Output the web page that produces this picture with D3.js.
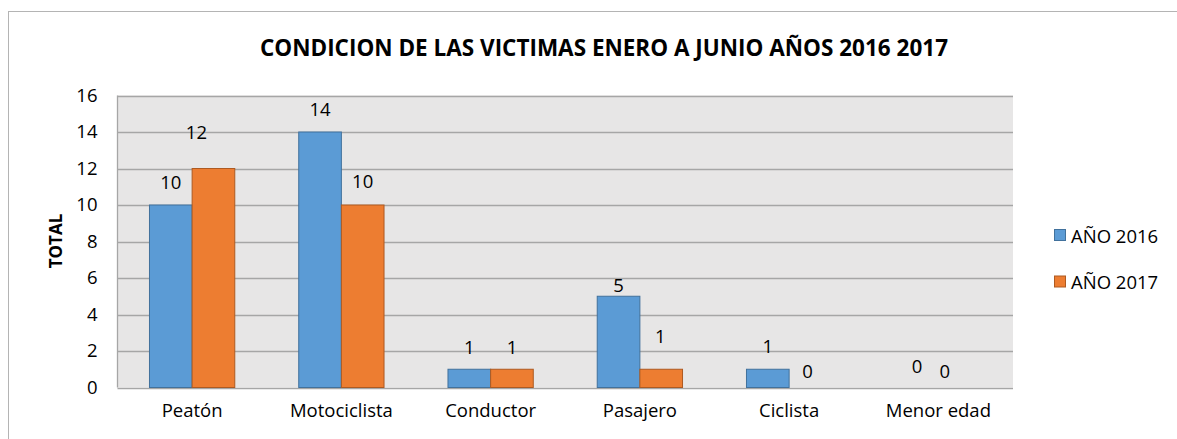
<!DOCTYPE html>
<html lang="es">
<head>
<meta charset="UTF-8">
<title>Condicion de las victimas</title>
<script src="https://d3js.org/d3.v7.min.js"></script>
<style>
  body { margin: 0; background: #fff; }
  svg { display: block; font-family: 'Open Sans', sans-serif; }
</style>
</head>
<body>
<svg id="chart" width="1177" height="439"></svg>
<script>
// data
var categories = ["Peatón", "Motociclista", "Conductor", "Pasajero", "Ciclista", "Menor edad"];
var seriesNames = ["AÑO 2016", "AÑO 2017"];
var values2016 = [10, 14, 1, 5, 1, 0];
var values2017 = [12, 10, 1, 1, 0, 0];
var yTicks = [0, 2, 4, 6, 8, 10, 12, 14, 16];

// label nudges (the original labels were dragged by hand)
var labelNudge2016 = [[0, -24], [0, -24], [0, -23], [0, -12], [0, -24], [0, -22]];
var labelNudge2017 = [[-17, -37], [0, -25], [0, -23], [-1, -34], [-3, -17], [-15, -17]];

var colors = ["#5B9BD5", "#ED7D31"];
var strokes = ["#41719C", "#AE5A21"];

var svg = d3.select("#chart");
var plotL = 117.5, plotR = 1013, plotT = 95.5, plotB = 387.5;

// outer chart frame
svg.append("rect").attr("x", 8.5).attr("y", 11.5).attr("width", 1200).attr("height", 500)
  .attr("fill", "none").attr("stroke", "#b4b4b4");

svg.append("text").attr("x", 604).attr("y", 47).attr("text-anchor", "middle")
  .attr("dominant-baseline", "central").attr("font-weight", "bold").attr("font-size", 22.5)
  .text("CONDICION DE LAS VICTIMAS ENERO A JUNIO AÑOS 2016 2017");

var x0 = d3.scaleBand().domain(categories).range([plotL, plotR]).padding(0);
var x1 = d3.scaleBand().domain(seriesNames).range([0, x0.bandwidth()])
  .paddingInner(0).paddingOuter(0.75);
var y = d3.scaleLinear().domain([0, 16]).range([plotB, plotT]);

svg.append("rect").attr("x", plotL).attr("y", plotT).attr("width", plotR - plotL).attr("height", plotB - plotT)
  .attr("fill", "#E7E6E6");

svg.append("g").selectAll("line").data(yTicks).enter().append("line")
  .attr("x1", plotL).attr("x2", plotR)
  .attr("y1", function(d) { return Math.round(y(d)) + 0.5; })
  .attr("y2", function(d) { return Math.round(y(d)) + 0.5; })
  .attr("stroke", "#A6A6A6").attr("stroke-width", 1.3);
svg.append("line").attr("x1", plotL).attr("x2", plotL).attr("y1", plotT).attr("y2", plotB)
  .attr("stroke", "#A6A6A6").attr("stroke-width", 1.3);

var yAxis = d3.axisLeft(y).tickValues(yTicks).tickSize(0).tickPadding(20);
var gy = svg.append("g").attr("transform", "translate(" + plotL + ",0)").call(yAxis);
gy.select(".domain").remove();
gy.selectAll("text").attr("font-size", 18.5).attr("fill", "#000").attr("font-family", "'Open Sans', sans-serif");

var xAxis = d3.axisBottom(x0).tickSize(0).tickPadding(16);
var gx = svg.append("g").attr("transform", "translate(0," + plotB + ")").call(xAxis);
gx.select(".domain").remove();
gx.selectAll("text").attr("font-size", 18.5).attr("fill", "#000").attr("font-family", "'Open Sans', sans-serif");

svg.append("text").attr("transform", "translate(55,241) rotate(-90)")
  .attr("text-anchor", "middle").attr("dominant-baseline", "central")
  .attr("font-weight", "bold").attr("font-size", 17).text("TOTAL");

var allValues = [values2016, values2017];
var allNudges = [labelNudge2016, labelNudge2017];

seriesNames.forEach(function(s, si) {
  var rows = categories.map(function(c, i) { return { cat: c, v: allValues[si][i], n: allNudges[si][i] }; });
  var g = svg.append("g");
  g.selectAll("rect").data(rows.filter(function(d) { return d.v > 0; })).enter().append("rect")
    .attr("x", function(d) { return x0(d.cat) + x1(s); })
    .attr("y", function(d) { return y(d.v); })
    .attr("width", x1.bandwidth())
    .attr("height", function(d) { return y(0) - y(d.v); })
    .attr("fill", colors[si]).attr("stroke", strokes[si]).attr("stroke-width", 1);
  g.selectAll("text").data(rows).enter().append("text")
    .attr("x", function(d) { return x0(d.cat) + x1(s) + x1.bandwidth() / 2 + d.n[0]; })
    .attr("y", function(d) { return y(d.v) + d.n[1]; })
    .attr("text-anchor", "middle").attr("dominant-baseline", "central")
    .attr("font-size", 18.5).text(function(d) { return d.v; });
});

// legend
var legend = svg.append("g").selectAll("g").data(seriesNames).enter().append("g")
  .attr("transform", function(d, i) { return "translate(1054," + (235 + i * 46.5) + ")"; });
legend.append("rect").attr("x", 0.5).attr("y", -5.5).attr("width", 11).attr("height", 11)
  .attr("fill", function(d, i) { return colors[i]; })
  .attr("stroke", function(d, i) { return strokes[i]; });
legend.append("text").attr("x", 17).attr("y", 0).attr("dominant-baseline", "central")
  .attr("font-size", 18.5).text(function(d) { return d; });
</script>
</body>
</html>
